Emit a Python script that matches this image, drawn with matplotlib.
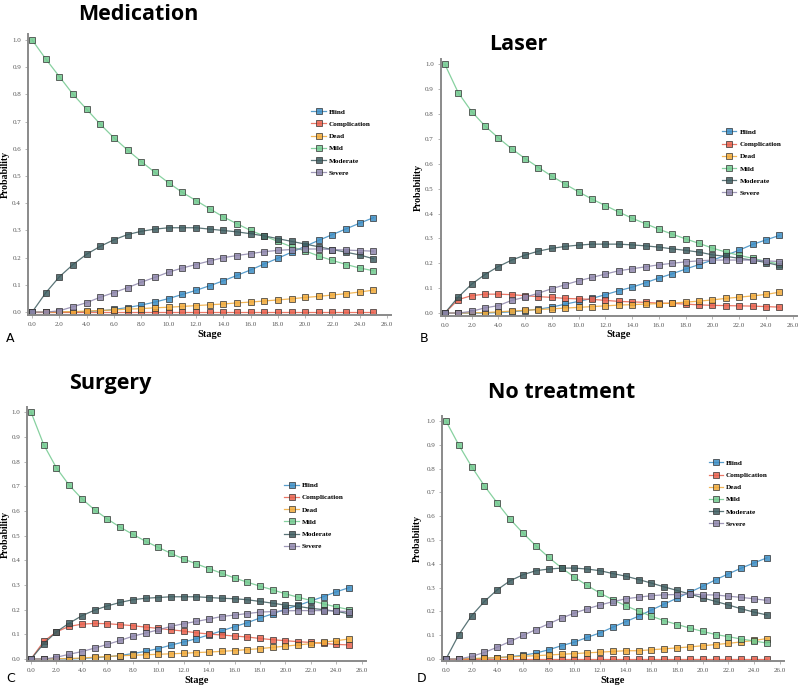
import matplotlib
matplotlib.use("Agg")
import matplotlib.pyplot as plt

# stages 0..25
stages = list(range(26))
states = ["Blind", "Complication", "Dead", "Mild", "Moderate", "Severe"]
colors = ["#3c8dc4", "#e8604c", "#f0aa3a", "#72c98f", "#3e5d60", "#8e86ac"]

# Medication
med_blind = [0, 0, 0, 0, 0.002, 0.005, 0.01, 0.017, 0.026, 0.037, 0.05, 0.065, 0.08,
             0.097, 0.115, 0.135, 0.155, 0.177, 0.198, 0.22, 0.242, 0.264, 0.285, 0.306, 0.327, 0.347]
med_comp = [0] * 26
med_dead = [0, 0, 0.001, 0.002, 0.004, 0.006, 0.008, 0.011, 0.013, 0.016, 0.018, 0.021, 0.024,
            0.027, 0.03, 0.034, 0.037, 0.041, 0.045, 0.049, 0.054, 0.058, 0.063, 0.068, 0.074, 0.081]
med_mild = [1.0, 0.93, 0.865, 0.80, 0.745, 0.69, 0.64, 0.595, 0.553, 0.513, 0.475, 0.44, 0.41,
            0.38, 0.35, 0.325, 0.30, 0.28, 0.26, 0.24, 0.225, 0.206, 0.19, 0.175, 0.162, 0.152]
med_moderate = [0, 0.071, 0.13, 0.175, 0.213, 0.242, 0.266, 0.285, 0.297, 0.305, 0.31, 0.31, 0.31,
                0.305, 0.30, 0.295, 0.288, 0.28, 0.27, 0.26, 0.25, 0.24, 0.23, 0.22, 0.21, 0.196]
med_severe = [0, 0, 0.005, 0.02, 0.035, 0.055, 0.072, 0.09, 0.11, 0.128, 0.147, 0.162, 0.175,
              0.188, 0.2, 0.208, 0.215, 0.222, 0.227, 0.23, 0.232, 0.232, 0.23, 0.228, 0.226, 0.224]

# Laser
las_blind = [0, 0, 0, 0, 0.002, 0.005, 0.01, 0.016, 0.024, 0.036, 0.047, 0.059, 0.074,
             0.09, 0.104, 0.122, 0.141, 0.158, 0.177, 0.195, 0.213, 0.232, 0.253, 0.276, 0.294, 0.312]
las_comp = [0, 0.054, 0.07, 0.076, 0.076, 0.074, 0.07, 0.066, 0.063, 0.059, 0.057, 0.055, 0.051,
            0.047, 0.045, 0.043, 0.04, 0.039, 0.036, 0.033, 0.031, 0.03, 0.029, 0.028, 0.026, 0.024]
las_dead = [0, 0, 0.001, 0.002, 0.005, 0.008, 0.011, 0.014, 0.017, 0.02, 0.023, 0.026, 0.029,
            0.032, 0.034, 0.036, 0.038, 0.04, 0.044, 0.048, 0.053, 0.059, 0.064, 0.069, 0.075, 0.084]
las_mild = [1.0, 0.886, 0.81, 0.752, 0.704, 0.66, 0.621, 0.585, 0.55, 0.518, 0.487, 0.458, 0.432,
            0.406, 0.381, 0.359, 0.337, 0.317, 0.298, 0.28, 0.261, 0.245, 0.232, 0.22, 0.208, 0.197]
las_moderate = [0, 0.064, 0.116, 0.155, 0.187, 0.213, 0.233, 0.249, 0.26, 0.268, 0.273, 0.277, 0.277,
                0.277, 0.274, 0.27, 0.265, 0.258, 0.252, 0.245, 0.234, 0.228, 0.22, 0.213, 0.203, 0.191]
las_severe = [0, 0, 0.007, 0.021, 0.03, 0.051, 0.064, 0.08, 0.098, 0.114, 0.13, 0.143, 0.157,
              0.17, 0.178, 0.186, 0.194, 0.2, 0.206, 0.21, 0.213, 0.213, 0.213, 0.213, 0.21, 0.207]

# Surgery
sur_blind = [0, 0, 0, 0, 0.002, 0.005, 0.009, 0.014, 0.022, 0.031, 0.042, 0.056, 0.069,
             0.082, 0.098, 0.114, 0.131, 0.147, 0.166, 0.183, 0.202, 0.217, 0.235, 0.253, 0.272, 0.289]
sur_comp = [0, 0.071, 0.11, 0.132, 0.141, 0.144, 0.143, 0.139, 0.135, 0.129, 0.124, 0.118, 0.113,
            0.106, 0.101, 0.097, 0.093, 0.089, 0.083, 0.078, 0.074, 0.07, 0.067, 0.063, 0.059, 0.057]
sur_dead = [0, 0, 0.001, 0.002, 0.004, 0.007, 0.01, 0.013, 0.015, 0.017, 0.019, 0.021, 0.023,
            0.026, 0.028, 0.031, 0.034, 0.038, 0.042, 0.047, 0.052, 0.057, 0.062, 0.068, 0.074, 0.081]
sur_mild = [1.0, 0.868, 0.774, 0.704, 0.649, 0.604, 0.567, 0.534, 0.505, 0.477, 0.452, 0.428, 0.405,
            0.385, 0.366, 0.347, 0.328, 0.311, 0.295, 0.28, 0.264, 0.25, 0.237, 0.223, 0.211, 0.2]
sur_moderate = [0, 0.062, 0.11, 0.145, 0.175, 0.198, 0.215, 0.229, 0.24, 0.246, 0.249, 0.252, 0.252,
                0.252, 0.249, 0.246, 0.244, 0.24, 0.233, 0.226, 0.218, 0.213, 0.205, 0.2, 0.193, 0.183]
sur_severe = [0, 0, 0.007, 0.019, 0.03, 0.044, 0.059, 0.075, 0.092, 0.105, 0.118, 0.132, 0.143,
              0.152, 0.162, 0.172, 0.178, 0.184, 0.19, 0.192, 0.195, 0.196, 0.196, 0.196, 0.194, 0.192]

# No treatment
not_blind = [0, 0, 0.001, 0.003, 0.006, 0.01, 0.016, 0.025, 0.039, 0.056, 0.071, 0.091, 0.11,
             0.134, 0.157, 0.18, 0.206, 0.231, 0.256, 0.281, 0.306, 0.333, 0.358, 0.382, 0.404, 0.425]
not_comp = [0] * 26
not_dead = [0, 0, 0.002, 0.004, 0.006, 0.009, 0.012, 0.014, 0.017, 0.02, 0.023, 0.026, 0.029,
            0.032, 0.035, 0.035, 0.039, 0.043, 0.047, 0.051, 0.056, 0.061, 0.066, 0.072, 0.078, 0.086]
not_mild = [1.0, 0.899, 0.808, 0.727, 0.655, 0.587, 0.529, 0.476, 0.427, 0.383, 0.344, 0.309, 0.277,
            0.249, 0.224, 0.201, 0.18, 0.161, 0.145, 0.13, 0.116, 0.103, 0.094, 0.084, 0.076, 0.067]
not_moderate = [0, 0.102, 0.182, 0.242, 0.291, 0.329, 0.354, 0.371, 0.378, 0.382, 0.382, 0.378, 0.371,
                0.359, 0.348, 0.334, 0.319, 0.303, 0.288, 0.273, 0.257, 0.242, 0.227, 0.211, 0.197, 0.185]
not_severe = [0, 0, 0.011, 0.028, 0.05, 0.074, 0.099, 0.124, 0.148, 0.172, 0.193, 0.211, 0.227,
              0.241, 0.253, 0.26, 0.266, 0.27, 0.271, 0.273, 0.27, 0.269, 0.264, 0.259, 0.253, 0.246]

panels = [
    ("Medication", "A", [med_blind, med_comp, med_dead, med_mild, med_moderate, med_severe]),
    ("Laser", "B", [las_blind, las_comp, las_dead, las_mild, las_moderate, las_severe]),
    ("Surgery", "C", [sur_blind, sur_comp, sur_dead, sur_mild, sur_moderate, sur_severe]),
    ("No treatment", "D", [not_blind, not_comp, not_dead, not_mild, not_moderate, not_severe]),
]

# axes boxes [left, bottom, width, height], legend anchors, title/letter positions (figure px)
boxes = [[0.035, 0.543, 0.454, 0.407], [0.551, 0.542, 0.445, 0.372],
         [0.034, 0.040, 0.423, 0.369], [0.5526, 0.040, 0.427, 0.356]]
leg_pos = [(0.78, 0.735), (0.79, 0.728), (0.76, 0.705), (0.78, 0.822)]
ylab_x = [-0.05, -0.05, -0.052, -0.058]
title_pos = [(138, 14), (518, 44), (110, 383), (562, 393)]
letter_pos = [(10, 338), (424, 338), (11, 678), (422, 678)]

W, H = 800, 689
fig = plt.figure(figsize=(8, 6.89), dpi=100)
serif = "Liberation Serif"

for i, (name, letter, series) in enumerate(panels):
    ax = fig.add_axes(boxes[i])
    for vals, lab, c in zip(series, states, colors):
        ax.plot(stages, vals, color=c, lw=0.9, alpha=0.85, marker="s", markersize=4.6,
                markerfacecolor=c, markeredgecolor="#333333", markeredgewidth=0.6, label=lab)
    ax.set_xlim(-0.3, 26.3)
    ax.set_ylim(-0.01, 1.02)
    ax.set_xticks(range(0, 27, 2))
    ax.set_xticklabels(["%.1f" % v for v in range(0, 27, 2)], fontsize=5, family=serif, color="#555555")
    ax.set_yticks([k / 10 for k in range(11)])
    ax.set_yticklabels(["%.1f" % (k / 10) for k in range(11)], fontsize=5, family=serif, color="#555555")
    ax.tick_params(length=2, width=0.5, color="#999999", pad=3)
    for s in ["top", "right"]:
        ax.spines[s].set_visible(False)
    for s in ["left", "bottom"]:
        ax.spines[s].set_color("#8a8a8a")
        ax.spines[s].set_linewidth(1.4)
    ax.set_xlabel("Stage", fontsize=7.5, family=serif, fontweight="bold", labelpad=2)
    ax.set_ylabel("Probability", fontsize=7, family=serif, fontweight="bold")
    ax.yaxis.set_label_coords(ylab_x[i], 0.5)
    ax.legend(loc="upper left", bbox_to_anchor=leg_pos[i], frameon=False,
              prop={"family": serif, "size": 5.2, "weight": "bold"},
              handlelength=2.0, labelspacing=0.85, borderpad=0, borderaxespad=0, handletextpad=0.4)
    tx, ty = title_pos[i]
    fig.text(tx / W, 1 - ty / H, name, ha="center", va="center", fontsize=15.5,
             family="Open Sans", fontweight="bold")
    lx, ly = letter_pos[i]
    fig.text(lx / W, 1 - ly / H, letter, ha="center", va="center", fontsize=9, family="DejaVu Sans")

fig.savefig("out.png", dpi=100)
